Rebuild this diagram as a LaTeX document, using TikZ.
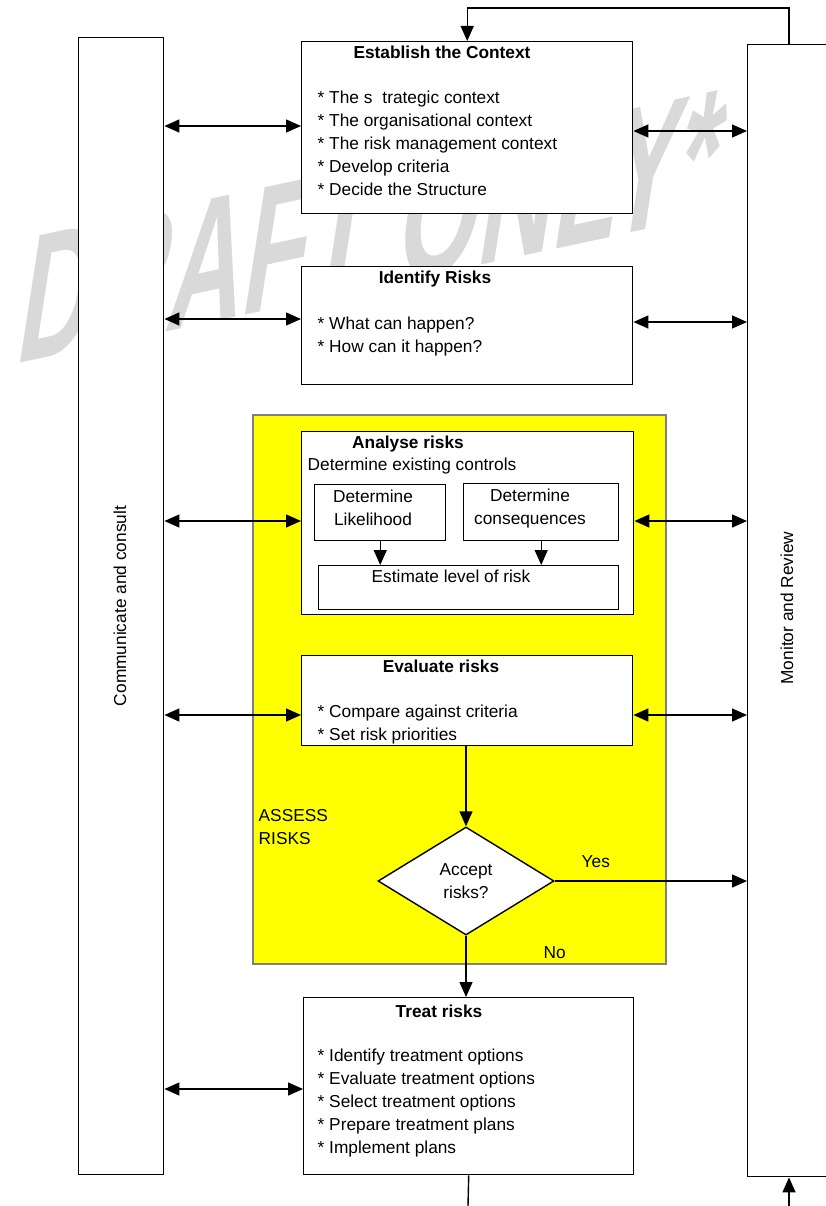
\documentclass[tikz,border=0pt]{standalone}
\usepackage{fontspec}
\setmainfont{Liberation Sans}
\usetikzlibrary{arrows.meta,shapes.geometric}

\newcommand\diagfont{\fontsize{17.3}{23}\selectfont}
\definecolor{frameyellow}{RGB}{255,255,0}
\definecolor{framegrey}{RGB}{128,128,128}
\definecolor{markgrey}{RGB}{217,217,217}

\tikzset{
  box/.style={draw, fill=white, line width=1.4pt, inner sep=0pt, anchor=north west},
  ttl/.style={font=\diagfont\bfseries, anchor=base, inner sep=0pt},
  txt/.style={anchor=base west, align=left, inner sep=0pt},
  ctr/.style={anchor=base, align=center, inner sep=0pt},
  assess/.style={draw=framegrey, fill=frameyellow, line width=2pt, inner sep=0pt, anchor=north west},
  decision/.style={diamond, draw, fill=white, line width=1.4pt, inner sep=0pt, align=center,
    minimum width=176pt, minimum height=108pt},
  draftmark/.style={anchor=base west, inner sep=0pt, text=markgrey,
    font=\fontsize{179}{179}\selectfont\bfseries, yslant=0.214, xslant=0.16, xscale=0.58}
}

\begin{document}
\begin{tikzpicture}[x=1pt, y=-1pt, line width=1.4pt, font=\diagfont,
    >={Triangle[length=15pt,width=13pt]}]
    \useasboundingbox (0,0) rectangle (826,1206);
    \clip (0,0) rectangle (826,1206);

    % watermark, covered in part by the boxes
    \node[draftmark] (wm) at (13,365) {DRAFT ONLY*};

    % side columns
    \node[box, minimum width=85pt, minimum height=1137pt] (comm) at (78,37) {};
    \node[rotate=90] (commtxt) at (120,606) {Communicate and consult};
    \node[box, minimum width=90pt, minimum height=1132pt] (mon) at (747,44) {};
    \node[rotate=90] (montxt) at (787,608) {Monitor and Review};

    % establish the context (multi-line texts sit on their last line)
    \node[box, minimum width=331pt, minimum height=172pt] (ctx) at (301,41) {};
    \node[ttl] (ctxttl) at (442,59) {Establish the Context};
    \node[txt] (ctxlist) at (317,196) {* The s\hspace{10pt}trategic context\\* The organisational context\\* The risk management context\\* Develop criteria\\* Decide the Structure};

    % identify risks
    \node[box, minimum width=331pt, minimum height=118pt] (idr) at (301,266) {};
    \node[ttl] (idrttl) at (435,283) {Identify Risks};
    \node[txt] (idrlist) at (317,352) {* What can happen?\\* How can it happen?};

    % assess risks frame
    \node[assess, minimum width=413pt, minimum height=549pt] (asr) at (252,414) {};
    \node[txt] (asrtxt) at (258,844) {ASSESS\\RISKS};

    % analyse risks
    \node[box, minimum width=332pt, minimum height=183pt] (anr) at (301,431) {};
    \node[ttl] (anrttl) at (408,448) {Analyse risks};
    \node[txt] (ctrl) at (307,470) {Determine existing controls};
    \node[box, minimum width=131pt, minimum height=56pt] (lik) at (314,484) {};
    \node[ctr] (liktxt) at (373,525) {Determine\\Likelihood};
    \node[box, minimum width=155pt, minimum height=57pt] (con) at (463,483) {};
    \node[ctr] (contxt) at (530,524) {Determine\\consequences};
    \node[box, minimum width=300pt, minimum height=44pt] (est) at (318,565) {};
    \node[ctr] (esttxt) at (451,582) {Estimate level of risk};
    \draw[->] (lik.south) -- (lik.south |- est.north);
    \draw[->] (con.south) -- (con.south |- est.north);

    % evaluate risks
    \node[box, minimum width=331pt, minimum height=90pt] (evr) at (301,655) {};
    \node[ttl] (evrttl) at (441,672) {Evaluate risks};
    \node[txt] (evrlist) at (317,740) {* Compare against criteria\\* Set risk priorities};

    % decision
    \node[decision] (acc) at (466,881) {Accept\\risks?};
    \node[txt] (yes) at (581,867) {Yes};
    \node[txt] (no) at (543,958) {No};

    % treat risks
    \node[box, minimum width=330pt, minimum height=177pt] (trt) at (303,997) {};
    \node[ttl] (trtttl) at (439,1017) {Treat risks};
    \node[txt] (trtlist) at (317,1153) {* Identify treatment options\\* Evaluate treatment options\\* Select treatment options\\* Prepare treatment plans\\* Implement plans};

    % communicate and consult links
    \draw[<->] (comm.east |- 0,126) -- (ctx.west |- 0,126);
    \draw[<->] (comm.east |- 0,319) -- (idr.west |- 0,319);
    \draw[<->] (comm.east |- 0,521) -- (anr.west |- 0,521);
    \draw[<->] (comm.east |- 0,715) -- (evr.west |- 0,715);
    \draw[<->] (comm.east |- 0,1089) -- (trt.west |- 0,1089);

    % monitor and review links
    \draw[<->] (ctx.east |- 0,131) -- (mon.west |- 0,131);
    \draw[<->] (idr.east |- 0,322) -- (mon.west |- 0,322);
    \draw[<->] (anr.east |- 0,521) -- (mon.west |- 0,521);
    \draw[<->] (evr.east |- 0,715) -- (mon.west |- 0,715);

    % main flow
    \draw[->] (evr.south -| acc) -- (acc.north);
    \draw[->] (acc.south) -- (acc.south |- trt.north);
    \draw[->] (acc.east) -- (acc.east -| mon.west);

    % loop back to the top
    \coordinate (fbk) at (789,44);
    \draw[->] (fbk) -- ++(0,-36) -| (ctx.north);
    \coordinate (tail) at (468,1206);
    \draw (trt.south) -- (tail);
    \coordinate (fbkin) at (789,1206);
    \draw[->] (fbkin) -- (fbkin |- mon.south);
\end{tikzpicture}
\end{document}
